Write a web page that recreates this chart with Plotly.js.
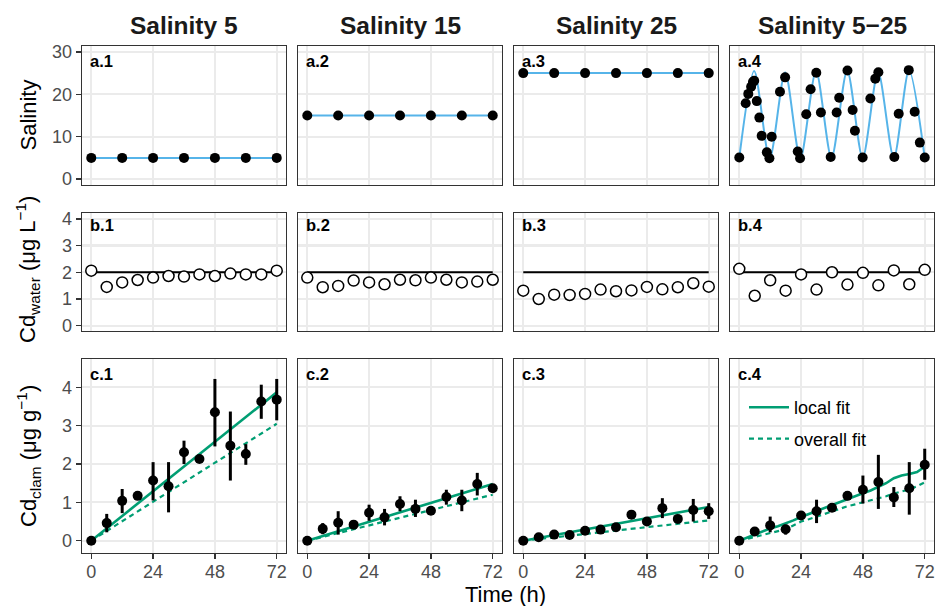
<!DOCTYPE html>
<html>
<head>
<meta charset="utf-8">
<script src="https://cdn.plot.ly/plotly-3.0.1.min.js"></script>
<style>
  html, body { margin: 0; padding: 0; background: #ffffff; }
  #chart { width: 935px; height: 606px; }
</style>
</head>
<body>
<div id="chart"></div>
<script>
// ---------- data ----------
const treatments = ['Salinity 5', 'Salinity 15', 'Salinity 25', 'Salinity 5\u221225'];
const rowTags = ['a', 'b', 'c'];

// Row a: salinity record
const salTimes = [0, 12, 24, 36, 48, 60, 72];
const sal5  = [5, 5, 5, 5, 5, 5, 5];
const sal15 = [15, 15, 15, 15, 15, 15, 15];
const sal25 = [25, 25, 25, 25, 25, 25, 25];
// fluctuating treatment: programmed cycle and measured salinity
const cycleTimes = [0, 5.8, 11.8, 17.8, 23.7, 29.8, 35.8, 41.9, 47.9, 53.9, 60, 65.9, 72];
const cycleSal   = [5, 25.5, 4.8, 25.2, 4.8, 25.5, 5, 25.6, 5, 25.3, 5, 25.7, 5];
const flucTimes = [0, 2.5, 3.5, 4.6, 5.3, 5.8, 6.8, 7.8, 8.7, 10.7, 11.7, 12.6, 15.8, 17.8,
                   22.7, 23.6, 26.0, 27.7, 29.9, 31.7, 35.5, 37.8, 38.8, 42.0, 44.0, 44.9,
                   47.9, 50.9, 52.8, 54.0, 60.2, 61.9, 65.8, 68.1, 70.1, 72];
const flucSal   = [5.1, 17.9, 20.1, 21.8, 22.9, 23.2, 18.4, 14.5, 10.2, 6.3, 4.9, 10.0, 20.6, 24.0,
                   6.5, 4.9, 15.3, 21.2, 25.1, 15.7, 5.2, 15.7, 19.2, 25.6, 16.3, 11.4,
                   5.1, 19.0, 23.7, 25.2, 5.2, 15.4, 25.7, 15.9, 8.6, 5.1];

// Row b: dissolved Cd (nominal 2 µg/L and measured)
const sampleTimes = [0, 6, 12, 18, 24, 30, 36, 42, 48, 54, 60, 66, 72];
const nominalTimes = [0, 72];
const nominalCd = [2, 2];
const water5   = [2.06, 1.45, 1.62, 1.71, 1.80, 1.86, 1.84, 1.92, 1.86, 1.95, 1.92, 1.92, 2.06];
const water15  = [1.80, 1.44, 1.49, 1.69, 1.62, 1.55, 1.72, 1.70, 1.80, 1.72, 1.62, 1.65, 1.72];
const water25  = [1.31, 1.00, 1.16, 1.15, 1.19, 1.35, 1.29, 1.32, 1.45, 1.36, 1.44, 1.59, 1.46];
const waterFluc = [2.13, 1.12, 1.70, 1.31, 1.92, 1.35, 2.00, 1.54, 1.98, 1.51, 2.07, 1.55, 2.09];

// Row c: Cd in clam tissue (mean, upper and lower bounds)
const clam5    = [0, 0.46, 1.04, 1.17, 1.57, 1.42, 2.31, 2.13, 3.35, 2.48, 2.26, 3.63, 3.68];
const clam5Hi  = [0, 0.70, 1.35, 1.17, 2.05, 2.05, 2.61, 2.13, 4.22, 3.37, 2.52, 4.07, 4.22];
const clam5Lo  = [0, 0.22, 0.72, 1.17, 1.05, 0.74, 2.00, 2.13, 2.46, 1.57, 1.98, 3.18, 3.14];
const clam15   = [0, 0.31, 0.47, 0.42, 0.73, 0.61, 0.96, 0.83, 0.78, 1.14, 1.05, 1.48, 1.37];
const clam15Hi = [0, 0.46, 0.77, 0.42, 0.94, 0.83, 1.16, 1.07, 0.78, 1.33, 1.33, 1.77, 1.37];
const clam15Lo = [0, 0.17, 0.16, 0.42, 0.52, 0.40, 0.77, 0.62, 0.78, 0.94, 0.77, 1.18, 1.37];
const clam25   = [0, 0.09, 0.16, 0.15, 0.26, 0.29, 0.35, 0.68, 0.50, 0.85, 0.57, 0.80, 0.77];
const clam25Hi = [0, 0.09, 0.16, 0.15, 0.26, 0.29, 0.35, 0.68, 0.58, 1.11, 0.57, 1.09, 0.98];
const clam25Lo = [0, 0.09, 0.16, 0.15, 0.26, 0.29, 0.35, 0.68, 0.44, 0.59, 0.57, 0.50, 0.57];
const clamFluc   = [0, 0.24, 0.40, 0.30, 0.66, 0.77, 0.86, 1.17, 1.33, 1.53, 1.13, 1.37, 1.98];
const clamFlucHi = [0, 0.24, 0.63, 0.42, 0.66, 1.07, 0.86, 1.17, 1.70, 2.24, 1.40, 2.05, 2.40];
const clamFlucLo = [0, 0.24, 0.22, 0.16, 0.66, 0.46, 0.86, 1.17, 0.97, 0.83, 0.88, 0.68, 1.59];

// Model fits (constant salinity: straight uptake lines)
const fitTimes = [0, 72];
const local5 = [0, 3.87], overall5 = [0, 3.05];
const local15 = [0, 1.48], overall15 = [0, 1.20];
const local25 = [0, 0.88], overall25 = [0, 0.53];
const flucFitTimes = [0, 3, 6, 9, 12, 15, 18, 21, 24, 27, 30, 33, 36, 39, 42, 45, 48, 51, 54, 57, 60, 63, 66, 69, 72];
const localFluc   = [0, 0.08, 0.17, 0.24, 0.32, 0.38, 0.45, 0.53, 0.62, 0.70, 0.78, 0.86, 0.94,
                     1.02, 1.09, 1.16, 1.24, 1.31, 1.40, 1.50, 1.63, 1.70, 1.74, 1.79, 1.93];
const overallFluc = [0, 0.05, 0.10, 0.15, 0.20, 0.24, 0.30, 0.40, 0.50, 0.56, 0.63, 0.70, 0.78,
                     0.85, 0.90, 0.95, 1.00, 1.05, 1.10, 1.16, 1.23, 1.28, 1.34, 1.42, 1.52];

const timeTicks = [0, 24, 48, 72];

// ---------- geometry & style ----------
const W = 935, H = 606;
const colPx = [[82, 286], [298, 502], [514, 718], [730, 934]];
const rowPx = [[46, 185], [213, 331], [359, 553]];
const rowRanges = [[-1.4, 31.4], [-0.2, 4.22], [-0.32, 4.74]];
const rowTicks = [[0, 10, 20, 30], [0, 1, 2, 3, 4], [0, 1, 2, 3, 4]];
const labelY = [61, 225, 374];

const FONT = 'Liberation Sans, Arial, Helvetica, sans-serif';
const BLUE = '#56B4E9', GREEN = '#009E73';

const px = x => x / W;
const py = y => 1 - y / H;

const layout = {
  width: W, height: H,
  margin: { l: 0, r: 0, t: 0, b: 0 },
  paper_bgcolor: '#ffffff', plot_bgcolor: '#ffffff',
  font: { family: FONT, color: '#000000' },
  showlegend: true,
  legend: {
    x: px(744), y: py(389), xanchor: 'left', yanchor: 'top',
    bgcolor: 'rgba(0,0,0,0)', borderwidth: 0, itemwidth: 40,
    font: { family: FONT, size: 18, color: '#000000' },
    traceorder: 'grouped', tracegroupgap: 5
  },
  annotations: [],
  shapes: []
};

function idx(r, c) { return r * 4 + c + 1; }

for (let r = 0; r < 3; r++) {
  for (let c = 0; c < 4; c++) {
    const i = idx(r, c);
    const xa = 'xaxis' + (i === 1 ? '' : i);
    const ya = 'yaxis' + (i === 1 ? '' : i);
    layout[xa] = {
      domain: [px(colPx[c][0]), px(colPx[c][1])],
      anchor: 'y' + (i === 1 ? '' : i),
      range: [-3.6, 75.6], tickvals: timeTicks,
      showgrid: true, gridcolor: '#EBEBEB', gridwidth: 2.2, zeroline: false,
      showline: true, mirror: true, linecolor: '#333333', linewidth: 1.3,
      ticks: r === 2 ? 'outside' : '', ticklen: 5, tickwidth: 1.3, tickcolor: '#333333',
      showticklabels: r === 2, ticklabelstandoff: -3,
      tickfont: { family: FONT, size: 18, color: '#4D4D4D' }
    };
    layout[ya] = {
      domain: [py(rowPx[r][1]), py(rowPx[r][0])],
      anchor: 'x' + (i === 1 ? '' : i),
      range: rowRanges[r], tickvals: rowTicks[r],
      showgrid: true, gridcolor: '#EBEBEB', gridwidth: 2.2, zeroline: false,
      showline: true, mirror: true, linecolor: '#333333', linewidth: 1.3,
      ticks: c === 0 ? 'outside' : '', ticklen: 5, tickwidth: 1.3, tickcolor: '#333333',
      showticklabels: c === 0,
      tickfont: { family: FONT, size: 18, color: '#4D4D4D' }
    };
    // panel tag, e.g. "a.1"
    layout.annotations.push({
      xref: 'paper', yref: 'paper', x: px(colPx[c][0] + 6), y: py(labelY[r]),
      xanchor: 'left', yanchor: 'middle', showarrow: false,
      text: '<b>' + rowTags[r] + '.' + (c + 1) + '</b>',
      font: { family: FONT, size: 16.5, color: '#000000' }
    });
  }
}

// column headers
treatments.forEach((t, c) => {
  layout.annotations.push({
    xref: 'paper', yref: 'paper', x: px((colPx[c][0] + colPx[c][1]) / 2), y: py(25),
    xanchor: 'center', yanchor: 'middle', showarrow: false,
    text: '<b>' + t + '</b>', font: { family: FONT, size: 24.5, color: '#1A1A1A' }
  });
});

// axis titles
const yTitles = [
  { text: 'Salinity', y: 115.5 },
  { text: 'Cd<sub>water</sub> (\u03bcg L<sup>\u22121</sup>)', y: 270 },
  { text: 'Cd<sub>clam</sub> (\u03bcg g<sup>\u22121</sup>)', y: 456 }
];
yTitles.forEach(t => {
  layout.annotations.push({
    xref: 'paper', yref: 'paper', x: px(28), y: py(t.y),
    xanchor: 'center', yanchor: 'middle', showarrow: false, textangle: -90,
    text: t.text, font: { family: FONT, size: 22, color: '#000000' }
  });
});
layout.annotations.push({
  xref: 'paper', yref: 'paper', x: px(506), y: py(594),
  xanchor: 'center', yanchor: 'middle', showarrow: false,
  text: 'Time (h)', font: { family: FONT, size: 22, color: '#000000' }
});

// ---------- traces ----------
const traces = [];
function ax(r, c) {
  const i = idx(r, c);
  return { xaxis: 'x' + (i === 1 ? '' : i), yaxis: 'y' + (i === 1 ? '' : i) };
}

// Row a
[sal5, sal15, sal25].forEach((vals, c) => {
  traces.push(Object.assign({
    type: 'scatter', mode: 'lines+markers', x: salTimes, y: vals,
    line: { color: BLUE, width: 2 },
    marker: { color: '#000000', size: 10 },
    showlegend: false, hoverinfo: 'x+y'
  }, ax(0, c)));
});
traces.push(Object.assign({
  type: 'scatter', mode: 'lines', x: cycleTimes, y: cycleSal,
  line: { color: BLUE, width: 2, shape: 'spline', smoothing: 0.8 },
  showlegend: false
}, ax(0, 3)));
traces.push(Object.assign({
  type: 'scatter', mode: 'markers', x: flucTimes, y: flucSal,
  marker: { color: '#000000', size: 10 }, showlegend: false
}, ax(0, 3)));

// Row b
[water5, water15, water25, waterFluc].forEach((vals, c) => {
  traces.push(Object.assign({
    type: 'scatter', mode: 'lines', x: nominalTimes, y: nominalCd,
    line: { color: '#000000', width: 2 }, showlegend: false
  }, ax(1, c)));
  traces.push(Object.assign({
    type: 'scatter', mode: 'markers', x: sampleTimes, y: vals,
    marker: { color: '#ffffff', size: 11, line: { color: '#000000', width: 1.5 } },
    showlegend: false
  }, ax(1, c)));
});

// Row c
const clamSets = [
  { v: clam5, hi: clam5Hi, lo: clam5Lo, ft: fitTimes, loc: local5, ov: overall5 },
  { v: clam15, hi: clam15Hi, lo: clam15Lo, ft: fitTimes, loc: local15, ov: overall15 },
  { v: clam25, hi: clam25Hi, lo: clam25Lo, ft: fitTimes, loc: local25, ov: overall25 },
  { v: clamFluc, hi: clamFlucHi, lo: clamFlucLo, ft: flucFitTimes, loc: localFluc, ov: overallFluc }
];
clamSets.forEach((s, c) => {
  const legendOn = c === 3;
  traces.push(Object.assign({
    type: 'scatter', mode: 'lines', x: s.ft, y: s.loc, name: 'local fit',
    legendgroup: 'local', showlegend: legendOn,
    line: { color: GREEN, width: 2.6 }
  }, ax(2, c)));
  traces.push(Object.assign({
    type: 'scatter', mode: 'lines', x: s.ft, y: s.ov, name: 'overall fit',
    legendgroup: 'overall', showlegend: legendOn,
    line: { color: GREEN, width: 2.2, dash: '5px,4px' }
  }, ax(2, c)));
  traces.push(Object.assign({
    type: 'scatter', mode: 'markers', x: sampleTimes, y: s.v, showlegend: false,
    marker: { color: '#000000', size: 10 },
    error_y: {
      type: 'data', symmetric: false,
      array: s.hi.map((h, k) => h - s.v[k]),
      arrayminus: s.v.map((m, k) => m - s.lo[k]),
      color: '#000000', thickness: 3, width: 0
    }
  }, ax(2, c)));
});

Plotly.newPlot('chart', traces, layout, { displayModeBar: false, staticPlot: true });
</script>
</body>
</html>
